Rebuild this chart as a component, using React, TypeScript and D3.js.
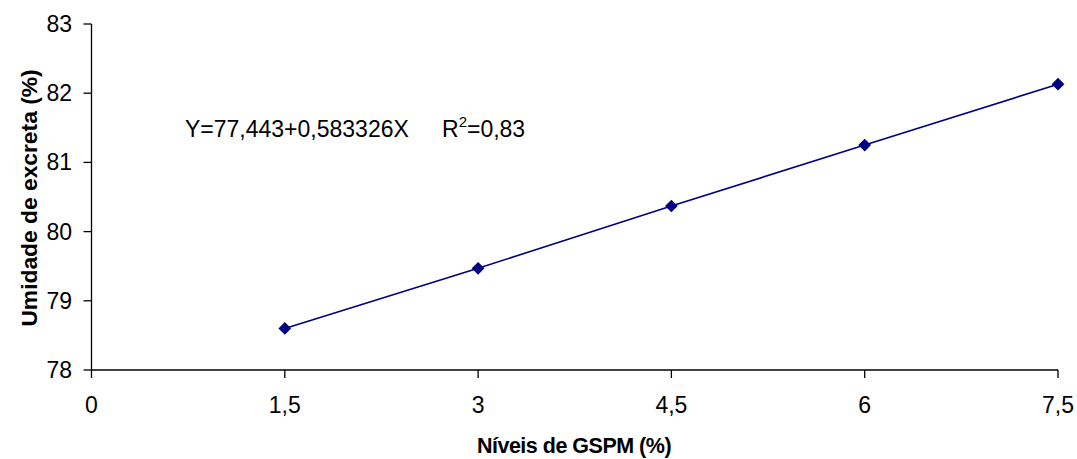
import React from "react";
import { scaleLinear, line } from "d3";

const levels = [1.5, 3, 4.5, 6, 7.5];
const moisture = [78.6, 79.47, 80.37, 81.25, 82.13];
const xTicks = [0, 1.5, 3, 4.5, 6, 7.5];
const yTicks = [78, 79, 80, 81, 82, 83];

const fmt = (v: number) => String(v).replace(".", ",");

const App = () => {
  const width = 1077;
  const height = 459;
  const left = 91.5;
  const right = 1058;
  const top = 24;
  const bottom = 370;

  const x = scaleLinear().domain([0, 7.5]).range([left, right]);
  const y = scaleLinear().domain([78, 83]).range([bottom, top]);

  const pts = levels.map((l, i) => [l, moisture[i]] as [number, number]);
  const path = line<[number, number]>()
    .x((d) => x(d[0]))
    .y((d) => y(d[1]))(pts);

  const font = "'Liberation Sans', Arial, sans-serif";

  return (
    <svg
      width={width}
      height={height}
      style={{ position: "absolute", left: 0, top: 0, background: "#fff" }}
      fontFamily={font}
    >
      {/* axes */}
      <line x1={left} x2={left} y1={top} y2={bottom} stroke="#000" strokeWidth={1.3} />
      <line x1={left} x2={right} y1={bottom} y2={bottom} stroke="#000" strokeWidth={1.3} />
      {yTicks.map((t) => (
        <g key={"y" + t}>
          <line x1={left - 8} x2={left} y1={y(t)} y2={y(t)} stroke="#000" strokeWidth={1.3} />
          <text x={72} y={y(t) + 8} textAnchor="end" fontSize={23}>
            {t}
          </text>
        </g>
      ))}
      {xTicks.map((t) => (
        <g key={"x" + t}>
          <line x1={x(t)} x2={x(t)} y1={bottom} y2={bottom + 8} stroke="#000" strokeWidth={1.3} />
          <text x={x(t)} y={413} textAnchor="middle" fontSize={23}>
            {fmt(t)}
          </text>
        </g>
      ))}

      {/* series */}
      <path d={path ?? ""} fill="none" stroke="#000080" strokeWidth={1.6} />
      {pts.map((d, i) => (
        <rect
          key={i}
          x={x(d[0]) - 4.5}
          y={y(d[1]) - 4.5}
          width={9}
          height={9}
          fill="#000080"
          transform={`rotate(45 ${x(d[0])} ${y(d[1])})`}
        />
      ))}

      {/* equation */}
      <text x={185} y={137} fontSize={23}>
        Y=77,443+0,583326X
        <tspan x={442}>R</tspan>
        <tspan dy={-10} fontSize={15}>2</tspan>
        <tspan dy={10}>=0,83</tspan>
      </text>

      {/* titles */}
      <text x={574} y={453} textAnchor="middle" fontSize={21.5} fontWeight="bold" letterSpacing={-0.5}>
        Níveis de GSPM (%)
      </text>
      <text
        transform={`translate(37 198) rotate(-90)`}
        textAnchor="middle"
        fontSize={22.8}
        fontWeight="bold"
      >
        Umidade de excreta (%)
      </text>
    </svg>
  );
};

export default App;
